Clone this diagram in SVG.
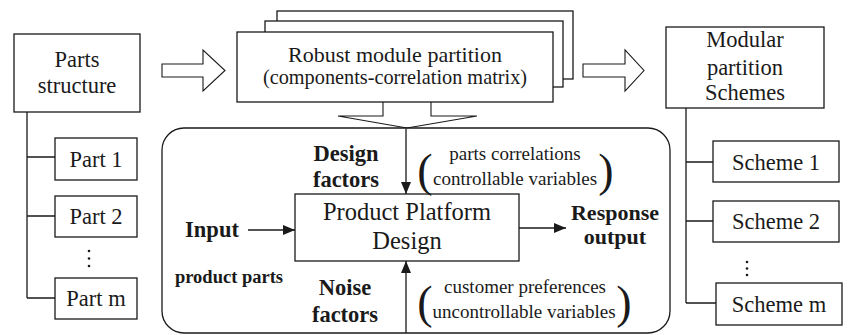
<svg xmlns="http://www.w3.org/2000/svg" width="848" height="335" viewBox="0 0 848 335" font-family="'Liberation Serif', 'DejaVu Serif', serif">
<defs>
<style>
.b{fill:#fff;stroke:#1a1a1a;stroke-width:1.3}
.l{fill:none;stroke:#1a1a1a;stroke-width:1.3}
.oa{fill:#fff;stroke:#1a1a1a;stroke-width:1.1}
text{font-family:'Liberation Serif','DejaVu Serif',serif;fill:#1a1a1a;text-anchor:middle}
.n{font-size:22.5px}
.bd{font-weight:bold}
.s{font-size:19px}
.p{font-size:46px}
</style>
<marker id="ah" viewBox="0 0 12 10" refX="12" refY="5" markerWidth="12" markerHeight="10" markerUnits="userSpaceOnUse" orient="auto">
<path d="M0,0 L12,5 L0,10 z" fill="#1a1a1a"/>
</marker>
</defs>
<rect width="848" height="335" fill="#fff"/>

<g id="connectors">
<path class="l" d="M27,112 V298 M27,157 H55 M27,216 H55 M27,298 H55"/>
<path class="l" d="M686,108 V303 M686,162 H713 M686,221 H713 M686,303 H716"/>
<path class="oa" d="M162,64 H203 V50 L225,70.5 L203,91 V77 H162 Z"/>
<path class="oa" d="M583,64 H625 V50 L644,70.5 L625,91 V77 H583 Z"/>
<path class="oa" d="M383,102 V116 H338 L407,128 L477,116 H431 V102"/>
<line class="l" x1="406" y1="129" x2="406" y2="194" marker-end="url(#ah)"/>
<line class="l" x1="406" y1="333" x2="406" y2="261" marker-end="url(#ah)"/>
<line class="l" x1="248" y1="230" x2="295" y2="230" marker-end="url(#ah)"/>
<line class="l" x1="519" y1="228" x2="566" y2="228" marker-end="url(#ah)"/>
</g>

<g id="parts-structure">
<rect class="b" x="14" y="34" width="126" height="78"/>
<text class="n" x="77" y="67">Parts</text>
<text class="n" x="77" y="93">structure</text>
</g>
<g id="part1">
<rect class="b" x="55" y="138" width="82" height="42"/>
<text class="n" x="96" y="167">Part 1</text>
</g>
<g id="part2">
<rect class="b" x="55" y="196" width="82" height="41"/>
<text class="n" x="96" y="224">Part 2</text>
</g>
<g id="part-dots" fill="#1a1a1a">
<circle cx="89" cy="251" r="1.3"/><circle cx="89" cy="258.5" r="1.3"/><circle cx="89" cy="266" r="1.3"/>
</g>
<g id="partm">
<rect class="b" x="55" y="278" width="82" height="41"/>
<text class="n" x="96" y="306">Part m</text>
</g>

<g id="robust-partition">
<rect class="b" x="277" y="11" width="296" height="68"/>
<rect class="b" x="265" y="21" width="298" height="66"/>
<rect class="b" x="237" y="32" width="316" height="70"/>
<text x="395" y="62" font-size="22px">Robust module partition</text>
<text x="395" y="84" font-size="20.3px">(components-correlation matrix)</text>
</g>

<g id="modular-schemes">
<rect class="b" x="666" y="27" width="158" height="81"/>
<text class="n" x="745" y="47">Modular</text>
<text class="n" x="745" y="75">partition</text>
<text class="n" x="745" y="100">Schemes</text>
</g>
<g id="scheme1">
<rect class="b" x="713" y="141" width="126" height="41"/>
<text class="n" x="776" y="170">Scheme 1</text>
</g>
<g id="scheme2">
<rect class="b" x="713" y="201" width="126" height="41"/>
<text class="n" x="776" y="229">Scheme 2</text>
</g>
<g id="scheme-dots" fill="#1a1a1a">
<circle cx="747" cy="262" r="1.3"/><circle cx="747" cy="268.5" r="1.3"/><circle cx="747" cy="275" r="1.3"/>
</g>
<g id="schemem">
<rect class="b" x="716" y="283" width="126" height="42"/>
<text class="n" x="779" y="312">Scheme m</text>
</g>

<g id="platform-frame">
<rect class="l" x="162" y="128" width="508" height="205" rx="22" ry="22"/>
</g>

<g id="product-platform-design">
<rect class="b" x="295" y="194" width="224" height="67"/>
<text x="407" y="220" font-size="24.5px">Product Platform</text>
<text x="407" y="249" font-size="24.5px">Design</text>
</g>

<g id="design-factors">
<text class="n bd" x="346" y="161">Design</text>
<text class="n bd" x="346" y="187">factors</text>
<text class="p" x="425" y="186">(</text>
<text class="s" x="515" y="160">parts correlations</text>
<text class="s" x="515" y="185">controllable variables</text>
<text class="p" x="606" y="186">)</text>
</g>

<g id="noise-factors">
<text class="n bd" x="345" y="295">Noise</text>
<text class="n bd" x="345" y="322">factors</text>
<text class="p" x="425" y="318">(</text>
<text class="s" x="525" y="293">customer preferences</text>
<text class="s" x="524" y="318">uncontrollable variables</text>
<text class="p" x="624" y="318">)</text>
</g>

<g id="input">
<text class="n bd" x="212" y="237">Input</text>
<text class="bd" x="229" y="283" font-size="18.5px">product parts</text>
</g>

<g id="response">
<text class="bd" x="615" y="220" font-size="22px">Response</text>
<text class="bd" x="615" y="244" font-size="22px">output</text>
</g>
</svg>
